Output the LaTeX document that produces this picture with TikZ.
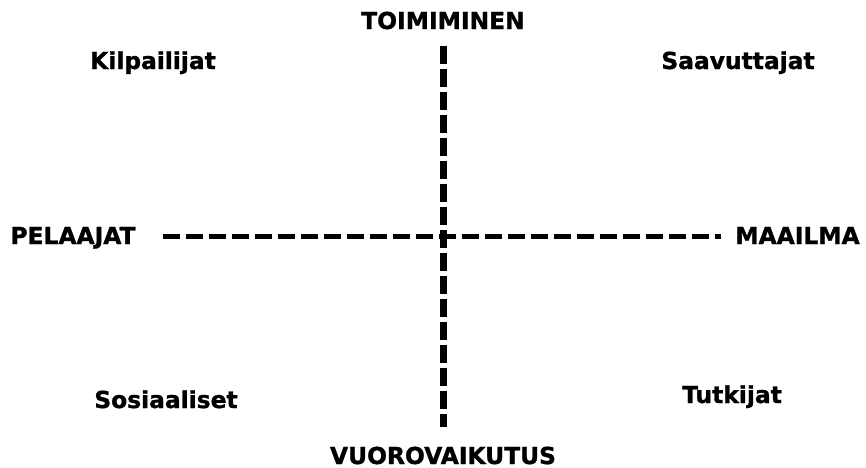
\documentclass[tikz,border=0pt]{standalone}
\usepackage{fontspec}
\newfontfamily\axisfont{DejaVu Sans}[FakeBold=1.2]
\begin{document}
\begin{tikzpicture}[font=\axisfont\bfseries\fontsize{13.3}{16}\selectfont,
    lbl/.style={inner sep=0pt, anchor=base},
    vaxis/.style={line width=0.14cm, dash pattern=on 0.36cm off 0.1cm},
    haxis/.style={line width=0.1cm, dash pattern=on 0.34cm off 0.12cm}]
  \useasboundingbox (0,0) rectangle (17.32,9.34);
  % axis ends
  \node[lbl] (toim) at (8.86,8.76) {TOIMIMINEN};
  \node[lbl] (vuor) at (8.86,0.06) {VUOROVAIKUTUS};
  \node[lbl] (pel) at (1.46,4.46) {PELAAJAT};
  \node[lbl] (maa) at (15.95,4.46) {MAAILMA};

  % quadrants
  \node[lbl] (kilp) at (3.06,7.96) {Kilpailijat};
  \node[lbl] (saav) at (14.76,7.96) {Saavuttajat};
  \node[lbl] (sos) at (3.32,1.18) {Sosiaaliset};
  \node[lbl] (tutk) at (14.64,1.28) {Tutkijat};

  % axes
  \draw[haxis] ([shift={(0.54cm,0.16cm)}]pel.base east)
    -- ([shift={(-0.28cm,0.16cm)}]maa.base west);
  \draw[vaxis] ([yshift=-0.32cm]toim.south)
    -- ([yshift=0.38cm]toim.south |- vuor.north);
\end{tikzpicture}
\end{document}
